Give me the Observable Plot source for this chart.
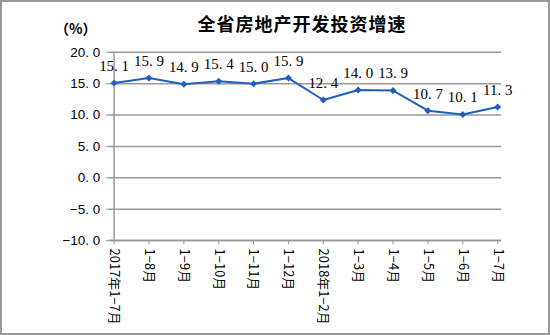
<!DOCTYPE html>
<html><head><meta charset="utf-8">
<script src="https://cdn.jsdelivr.net/npm/d3@7"></script>
<script src="https://cdn.jsdelivr.net/npm/@observablehq/plot@0.6"></script>
<style>
html,body{margin:0;padding:0;background:#fff;}
#wrap{position:relative;width:550px;height:335px;box-sizing:border-box;border:2px solid #999;overflow:hidden;}
#title{position:absolute;left:0;width:550px;top:8px;text-align:center;font:bold 18px "Noto Sans CJK SC";color:#000;padding-left:50px;box-sizing:border-box;letter-spacing:1px;}
#unit{position:absolute;left:53px;top:16px;font:bold 14px "Noto Sans CJK SC";color:#000;}
#chart{position:absolute;left:-2px;top:-2px;}
</style></head>
<body>
<div id="wrap"><div id="chart"></div><div id="title">全省房地产开发投资增速</div><div id="unit">（%）</div></div>
<script>
const periods = ["2017年1-7月","1-8月","1-9月","1-10月","1-11月","1-12月","2018年1-2月","1-3月","1-4月","1-5月","1-6月","1-7月"];
const growth = [15.1, 15.9, 14.9, 15.4, 15.0, 15.9, 12.4, 14.0, 13.9, 10.7, 10.1, 11.3];
const yTicks = [-10, -5, 0, 5, 10, 15, 20];
const data = periods.map((p, i) => ({period: p, value: growth[i]}));
const blue = "#1f5fbf";
const chart = Plot.plot({
  width: 550, height: 335,
  marginLeft: 109, marginRight: 47, marginTop: 52, marginBottom: 94,
  style: {fontFamily: "Liberation Sans, Noto Sans CJK SC", fontSize: "13px", color: "#000", background: "transparent"},
  x: {type: "point", domain: periods, padding: 0, label: null},
  y: {domain: [-10, 20], label: null},
  marks: [
    Plot.gridY(yTicks, {stroke: "#999", strokeOpacity: 1, strokeWidth: 1.5}),
    Plot.axisY(yTicks, {tickFormat: d => d3.format(".1f")(d).replace(".", ". "), tickSize: 3, stroke: "#999", tickPadding: 6, fontSize: 13.5}),
    Plot.ruleX([periods[0]], {stroke: "#999", strokeWidth: 1.5}),
    Plot.ruleY([-10], {stroke: "#999", strokeWidth: 1.5}),
    Plot.axisX({tickRotate: 90, tickSize: 4, stroke: "#999", tickPadding: 4, fontSize: 13, fontFamily: "Noto Sans CJK SC", tickFormat: d => d.replace(/-/g, "−")}),
    Plot.line(data, {x: "period", y: "value", stroke: blue, strokeWidth: 2}),
    Plot.dot(data, {x: "period", y: "value", symbol: "diamond2", fill: blue, r: 3.2}),
    Plot.text(data, {x: "period", y: "value", text: d => d.value.toFixed(1).replace(".", ". "), dy: -17, fontFamily: "Liberation Serif", fontSize: 15, fill: "#000"})
  ]
});
document.getElementById("chart").appendChild(chart);
</script>
</body></html>
